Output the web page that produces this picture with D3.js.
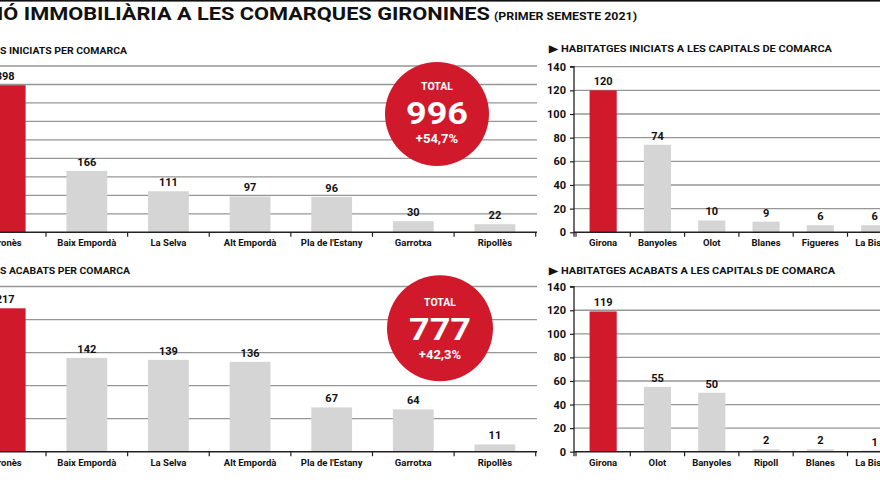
<!DOCTYPE html>
<html>
<head>
<meta charset="utf-8">
<script src="https://cdn.jsdelivr.net/npm/d3@7"></script>
<style>
  body { margin: 0; background: #fff; }
  svg { display: block; }
  text { font-family: "Roboto", "Liberation Sans", sans-serif; font-weight: bold; }
</style>
</head>
<body>
<div id="chart"></div>
<script>
// ---- data ----
const comarquesIniciats = ["Gironès", "Baix Empordà", "La Selva", "Alt Empordà", "Pla de l'Estany", "Garrotxa", "Ripollès"];
const iniciatsComarca = [398, 166, 111, 97, 96, 30, 22];
const comarquesAcabats = ["Gironès", "Baix Empordà", "La Selva", "Alt Empordà", "Pla de l'Estany", "Garrotxa", "Ripollès"];
const acabatsComarca = [217, 142, 139, 136, 67, 64, 11];
const capitalsIniciats = ["Girona", "Banyoles", "Olot", "Blanes", "Figueres", "La Bisbal"];
const iniciatsCapitals = [120, 74, 10, 9, 6, 6];
const capitalsAcabats = ["Girona", "Olot", "Banyoles", "Ripoll", "Blanes", "La Bisbal"];
const acabatsCapitals = [119, 55, 50, 2, 2, 1];
const ticksIniciatsComarca = [0, 50, 100, 150, 200, 250, 300, 350, 400, 450];
const ticksAcabatsComarca = [0, 50, 100, 150, 200, 250];
const ticksCapitals = [0, 20, 40, 60, 80, 100, 120, 140];
const totalsLabel = "TOTAL";
const totalValues = ["996", "777"];
const totalChanges = ["+54,7%", "+42,3%"];

const RED = "#d0192b";
const GREY_BAR = "#d5d5d5";
const GRID = "#969696";

const width = 880, height = 495;
const svg = d3.select("#chart").append("svg")
  .attr("width", width)
  .attr("height", height);

// top rule + headline
svg.append("rect").attr("x", 0).attr("y", 0).attr("width", width).attr("height", 1.6).attr("fill", "#111");

svg.append("text")
  .attr("x", -3).attr("y", 20)
  .attr("font-size", 19).attr("font-weight", 900)
  .attr("fill", "#111")
  .attr("textLength", 493).attr("lengthAdjust", "spacingAndGlyphs")
  .text("IÓ IMMOBILIÀRIA A LES COMARQUES GIRONINES");

svg.append("text")
  .attr("x", 494).attr("y", 19.5)
  .attr("font-size", 11.5).attr("font-weight", "normal")
  .attr("fill", "#111")
  .attr("textLength", 143).attr("lengthAdjust", "spacingAndGlyphs")
  .text("(PRIMER SEMESTE 2021)");

/**
 * Draws one bar panel (gridlines, bars, baseline, category ticks, labels)
 */
function drawPanel(cfg) {
  const g = svg.append("g").attr("class", "panel");
  const n = cfg.categories.length;

  const x = d3.scaleBand()
    .domain(cfg.categories)
    .range(cfg.xRange)
    .paddingInner(0.5)
    .paddingOuter(0.25);

  const y = d3.scaleLinear()
    .domain([0, cfg.ticks[cfg.ticks.length - 1]])
    .range(cfg.yRange);

  // gridlines
  g.selectAll(".grid")
    .data(cfg.ticks.filter((t) => t > 0))
    .join("line")
    .attr("class", "grid")
    .attr("x1", cfg.gridX[0]).attr("x2", cfg.gridX[1])
    .attr("y1", (d) => y(d)).attr("y2", (d) => y(d))
    .attr("stroke", GRID)
    .attr("stroke-width", 1.3);

  // bars
  g.selectAll(".bar")
    .data(cfg.values)
    .join("rect")
    .attr("class", "bar")
    .attr("x", (d, i) => x(cfg.categories[i]))
    .attr("width", x.bandwidth())
    .attr("y", (d) => y(d))
    .attr("height", (d) => y(0) - y(d))
    .attr("fill", (d, i) => (i === 0 ? RED : GREY_BAR));

  // value labels
  g.selectAll(".val")
    .data(cfg.values)
    .join("text")
    .attr("class", "val")
    .attr("x", (d, i) => x(cfg.categories[i]) + x.bandwidth() / 2)
    .attr("y", (d) => y(d) - 5)
    .attr("text-anchor", "middle")
    .attr("font-size", 11)
    .attr("fill", "#111")
    .text((d) => d);

  // baseline
  g.append("line")
    .attr("x1", cfg.gridX[0]).attr("x2", cfg.gridX[1])
    .attr("y1", y(0)).attr("y2", y(0))
    .attr("stroke", "#222")
    .attr("stroke-width", 1.5);

  // category separators
  const bounds = d3.range(n + 1).map((k) => cfg.xRange[0] + k * x.step());
  g.selectAll(".sep")
    .data(bounds)
    .join("line")
    .attr("class", "sep")
    .attr("x1", (d) => d).attr("x2", (d) => d)
    .attr("y1", y(0)).attr("y2", y(0) + 4.5)
    .attr("stroke", "#222")
    .attr("stroke-width", 1.2);

  // category labels
  g.selectAll(".cat")
    .data(cfg.categories)
    .join("text")
    .attr("class", "cat")
    .attr("x", (d) => x(d) + x.bandwidth() / 2)
    .attr("y", y(0) + 14)
    .attr("text-anchor", "middle")
    .attr("font-size", 9.5)
    .attr("fill", "#111")
    .text((d) => d);

  // y axis (only capital panels show it)
  if (cfg.axisX !== undefined) {
    const axis = g.append("g")
      .attr("transform", `translate(${cfg.axisX},0)`)
      .call(d3.axisLeft(y).tickValues(cfg.ticks).tickSize(4).tickPadding(4));
    axis.select(".domain").attr("stroke", "#222").attr("stroke-width", 1.3)
      .attr("d", `M-4,${y(cfg.ticks[cfg.ticks.length - 1])}H0V${y(0) + 4.5}`);
    axis.selectAll(".tick line").attr("stroke", "#222").attr("stroke-width", 1.2);
    axis.selectAll(".tick text")
      .attr("font-size", 11)
      .attr("font-family", null)
      .attr("fill", "#111");
  }

  // panel subtitle
  g.append("text")
    .attr("x", cfg.titleX).attr("y", cfg.titleY)
    .attr("font-size", 9.5)
    .attr("font-weight", 900)
    .attr("fill", "#111")
    .attr("textLength", cfg.titleLength).attr("lengthAdjust", "spacingAndGlyphs")
    .text(cfg.title);

  return { x, y };
}

drawPanel({
  categories: comarquesIniciats, values: iniciatsComarca, ticks: ticksIniciatsComarca,
  xRange: [-35.6, 535.7], yRange: [232.3, 66], gridX: [-40, 537],
  title: "S INICIATS PER COMARCA", titleX: 0, titleY: 53.5, titleLength: 127,
});

drawPanel({
  categories: comarquesAcabats, values: acabatsComarca, ticks: ticksAcabatsComarca,
  xRange: [-35.6, 535.7], yRange: [451.7, 286.5], gridX: [-40, 537],
  title: "S ACABATS PER COMARCA", titleX: 0, titleY: 273.5, titleLength: 130,
});

drawPanel({
  categories: capitalsIniciats, values: iniciatsCapitals, ticks: ticksCapitals,
  xRange: [576, 901.8], yRange: [232.3, 66.7], gridX: [574, 880], axisX: 574,
  title: "▶ HABITATGES INICIATS A LES CAPITALS DE COMARCA", titleX: 549, titleY: 52, titleLength: 283,
});

drawPanel({
  categories: capitalsAcabats, values: acabatsCapitals, ticks: ticksCapitals,
  xRange: [576, 901.8], yRange: [451.7, 286.7], gridX: [574, 880], axisX: 574,
  title: "▶ HABITATGES ACABATS A  LES CAPITALS DE COMARCA", titleX: 549, titleY: 273.5, titleLength: 286,
});

// total badges
const badges = [
  { cx: 437, cy: 114, r: 52, dy: 0 },
  { cx: 440, cy: 328.3, r: 53, dy: 1.8 },
];
badges.forEach((b, i) => {
  const bg = svg.append("g").attr("transform", `translate(${b.cx},${b.cy})`);
  bg.append("circle").attr("r", b.r).attr("fill", RED);
  bg.append("text").attr("y", -24.5 + b.dy).attr("text-anchor", "middle")
    .attr("font-size", 10.5).attr("font-weight", "normal").attr("fill", "#fff")
    .attr("font-family", "'Open Sans', 'Noto Sans', sans-serif")
    .text(totalsLabel);
  bg.append("text").attr("y", 9.5 + b.dy).attr("text-anchor", "middle")
    .attr("font-size", 32).attr("font-weight", 900).attr("fill", "#fff")
    .attr("font-family", "'Open Sans', 'Noto Sans', sans-serif")
    .attr("textLength", 62).attr("lengthAdjust", "spacingAndGlyphs")
    .text(totalValues[i]);
  bg.append("text").attr("y", 29 + b.dy).attr("text-anchor", "middle")
    .attr("font-size", 13).attr("font-weight", 700).attr("fill", "#fff")
    .attr("font-family", "'Open Sans', 'Noto Sans', sans-serif")
    .text(totalChanges[i]);
});
</script>
</body>
</html>
